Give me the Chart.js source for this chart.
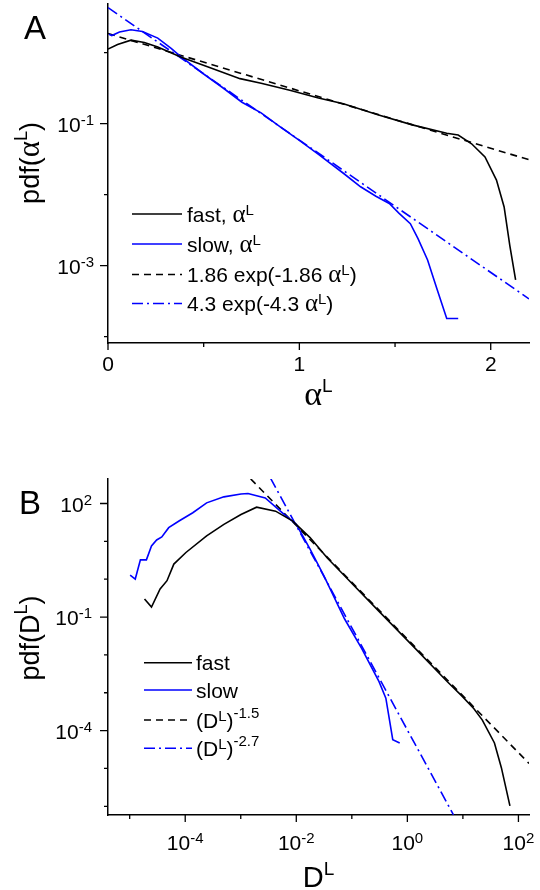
<!DOCTYPE html>
<html>
<head>
<meta charset="utf-8">
<script src="https://cdn.jsdelivr.net/npm/chart.js@4.4.1/dist/chart.umd.min.js"></script>
<style>
  html, body { margin: 0; padding: 0; background: #fff; }
  #wrap { position: relative; width: 540px; height: 890px; background: #fff; }
  canvas { position: absolute; left: 0; }
  #chartA { top: 0; }
  #chartB { top: 440px; }
</style>
</head>
<body>
<div id="wrap">
  <canvas id="chartA" width="540" height="440"></canvas>
  <canvas id="chartB" width="540" height="450"></canvas>
</div>
<script>
// ---- panel A: pdf of alpha^L (lin x, log y)
const alphaFastX = [0, 0.05, 0.12, 0.19, 0.26, 0.38, 0.52, 0.69, 0.8, 0.95, 1.1, 1.23, 1.41, 1.59, 1.77, 1.83, 1.9, 1.97, 2.03, 2.07, 2.1, 2.13];
const alphaFastY = [1.12, 1.3, 1.5, 1.39, 1.2, 0.87, 0.63, 0.43, 0.37, 0.295, 0.23, 0.19, 0.133, 0.096, 0.073, 0.069, 0.052, 0.034, 0.016, 0.0067, 0.0019, 0.00063];
const alphaSlowX = [0.005, 0.02, 0.06, 0.12, 0.18, 0.26, 0.33, 0.38, 0.5, 0.6, 0.7, 0.8, 0.9, 1.0, 1.1, 1.23, 1.32, 1.4, 1.47, 1.52, 1.58, 1.62, 1.67, 1.72, 1.77, 1.83];
const alphaSlowY = [1.82, 1.74, 1.95, 2.1, 1.98, 1.6, 1.15, 0.88, 0.5, 0.32, 0.2, 0.142, 0.09, 0.058, 0.037, 0.02, 0.0129, 0.0095, 0.0075, 0.0055, 0.0039, 0.0024, 0.0012, 0.00046, 0.00018, 0.00018];
const alphaFitFastX = [0, 2.2];
const alphaFitFastY = [1.86, 0.031];
const alphaFitSlowX = [0, 2.2];
const alphaFitSlowY = [4.3, 0.00034];

const alphaTicks = [0, 0.5, 1, 1.5, 2];
const alphaTickLabels = ['0', '', '1', '', '2'];
const pdfATickExp = [-4, -3, -2, -1, 0];
const pdfALabelExp = [-3, -1];

// ---- panel B: pdf of D^L (log x, log y)
const dFastX = [1.85e-5, 2.47e-5, 3.53e-5, 4.70e-5, 6.24e-5, 1.03e-4, 2.43e-4, 4.97e-4, 1.01e-3, 1.93e-3, 4.24e-3, 8.65e-3, 0.0177, 0.0362, 0.0738, 0.309, 1.29, 5.37, 9.55, 15.8, 22.4, 37.0, 49.3, 70.3];
const dFastY = [0.302, 0.183, 0.553, 0.914, 2.51, 5.08, 13.9, 28.1, 51.4, 80.0, 62.8, 34.4, 12.6, 3.63, 1.23, 0.141, 0.0166, 0.0019, 8.3e-4, 3.8e-4, 1.9e-4, 4.73e-5, 1.05e-5, 1.03e-6];
const dSlowX = [1.02e-5, 1.26e-5, 1.56e-5, 2.0e-5, 2.47e-5, 3.06e-5, 3.79e-5, 5.04e-5, 7.73e-5, 1.37e-4, 2.43e-4, 4.97e-4, 1.01e-3, 1.35e-3, 2.76e-3, 5.62e-3, 0.01, 0.0177, 0.0313, 0.0738, 0.151, 0.309, 0.41, 0.546, 0.728];
const dSlowY = [1.29, 1.01, 3.25, 3.25, 7.59, 10.9, 13.1, 23.0, 34.4, 56.9, 104, 150, 179, 183, 141, 56.9, 28.1, 6.21, 1.24, 0.0902, 0.0147, 0.00197, 7.18e-4, 5.77e-5, 4.73e-5];
const dFitFastX = [0.00151, 155];
const dFitFastY = [447, 1.36e-5];
const dFitSlowX = [0.00342, 6.76];
const dFitSlowY = [473, 5.97e-7];

const dTickExp = [-5, -4, -3, -2, -1, 0, 1, 2];
const dLabelExp = [-4, -2, 0, 2];
const pdfBTickExp = [-6, -5, -4, -3, -2, -1, 0, 1, 2];
const pdfBLabelExp = [-4, -1, 2];

const SANS = '"Liberation Sans", Arial, sans-serif';
const SERIF = '"Liberation Serif", "Times New Roman", serif';
const BLUE = '#0000ff';

function pts(xs, ys) {
    return xs.map((x, i) => ({ x: x, y: ys[i] }));
}

function seg(t, size, rise, fam) {
    return { t: t, size: size, rise: rise || 0, fam: fam || SANS };
}

function drawRich(ctx, segs, x, y, align) {
    let w = 0;
    segs.forEach(s => {
        ctx.font = s.size + 'px ' + s.fam;
        s.w = ctx.measureText(s.t).width;
        w += s.w;
    });
    let cx = align === 'right' ? x - w : align === 'center' ? x - w / 2 : x;
    ctx.fillStyle = '#000';
    ctx.textAlign = 'left';
    ctx.textBaseline = 'alphabetic';
    segs.forEach(s => {
        ctx.font = s.size + 'px ' + s.fam;
        ctx.fillText(s.t, cx, y - s.rise);
        cx += s.w;
    });
}

function pow10(e) {
    return [seg('10', 21), seg(String(e), 15, 7)];
}

function line(label, xs, ys, color, dash) {
    return {
        label: label,
        data: pts(xs, ys),
        borderColor: color,
        borderWidth: 1.6,
        borderDash: dash || [],
        pointRadius: 0,
        tension: 0,
        fill: false
    };
}

function axis(type, min, max) {
    return {
        type: type, min: min, max: max,
        grid: { display: false, drawTicks: false },
        ticks: { display: false },
        title: { display: false },
        border: { display: true, color: '#000', width: 1.5 }
    };
}

function strokeTicks(chart, xList, yList) {
    const ctx = chart.ctx, a = chart.chartArea;
    const sx = chart.scales.x, sy = chart.scales.y;
    ctx.save();
    ctx.strokeStyle = '#000';
    ctx.lineWidth = 1.3;
    ctx.setLineDash([]);
    ctx.beginPath();
    xList.forEach(t => {
        const p = sx.getPixelForValue(t.v);
        ctx.moveTo(p, a.bottom);
        ctx.lineTo(p, a.bottom + (t.major ? 7 : 4));
    });
    yList.forEach(t => {
        const p = sy.getPixelForValue(t.v);
        ctx.moveTo(a.left, p);
        ctx.lineTo(a.left - (t.major ? 8 : 4), p);
    });
    ctx.stroke();
    ctx.restore();
}

function drawLegend(chart, items, x0, x1, tx) {
    const ctx = chart.ctx;
    items.forEach(it => {
        const ds = chart.data.datasets[it.ds];
        ctx.save();
        ctx.strokeStyle = ds.borderColor;
        ctx.lineWidth = ds.borderWidth;
        ctx.setLineDash(ds.borderDash || []);
        ctx.beginPath();
        ctx.moveTo(x0, it.y);
        ctx.lineTo(x1, it.y);
        ctx.stroke();
        ctx.restore();
        drawRich(ctx, it.segs, tx, it.y + 7.5, 'left');
    });
}

function drawRotated(ctx, segs, x, y) {
    ctx.save();
    ctx.translate(x, y);
    ctx.rotate(-Math.PI / 2);
    drawRich(ctx, segs, 0, 0, 'center');
    ctx.restore();
}

// serif alpha followed by a raised L
const alphaSup = (size, lsize, rise) => [seg('\u03b1', size, 0, SERIF), seg('L', lsize, rise)];

const decorA = {
    id: 'decorA',
    afterDraw(chart) {
        const ctx = chart.ctx, a = chart.chartArea;
        const sx = chart.scales.x, sy = chart.scales.y;
        strokeTicks(chart,
            alphaTicks.map((v, i) => ({ v: v, major: alphaTickLabels[i] !== '' })),
            pdfATickExp.map(e => ({ v: Math.pow(10, e), major: pdfALabelExp.includes(e) })));
        alphaTicks.forEach((v, i) => {
            if (alphaTickLabels[i]) drawRich(ctx, [seg(alphaTickLabels[i], 21)], sx.getPixelForValue(v), a.bottom + 28, 'center');
        });
        pdfALabelExp.forEach(e => {
            drawRich(ctx, pow10(e), 94, sy.getPixelForValue(Math.pow(10, e)) + 8, 'right');
        });
        drawRich(ctx, [seg('A', 33)], 24, 39, 'left');
        drawRich(ctx, alphaSup(34, 19, 13), (a.left + a.right) / 2, 405, 'center');
        drawRotated(ctx, [seg('pdf(', 27)].concat(alphaSup(31, 18, 12), [seg(')', 27)]), 39, 163);
        drawLegend(chart, [
            { ds: 0, y: 214, segs: [seg('fast, ', 21)].concat(alphaSup(25, 15, 7)) },
            { ds: 1, y: 244, segs: [seg('slow, ', 21)].concat(alphaSup(25, 15, 7)) },
            { ds: 2, y: 274.5, segs: [seg('1.86 exp(-1.86 ', 21)].concat(alphaSup(25, 15, 7), [seg(')', 21)]) },
            { ds: 3, y: 303.5, segs: [seg('4.3 exp(-4.3 ', 21)].concat(alphaSup(25, 15, 7), [seg(')', 21)]) }
        ], 132, 182, 187);
    }
};

const decorB = {
    id: 'decorB',
    afterDraw(chart) {
        const ctx = chart.ctx, a = chart.chartArea;
        const sx = chart.scales.x, sy = chart.scales.y;
        strokeTicks(chart,
            dTickExp.map(e => ({ v: Math.pow(10, e), major: dLabelExp.includes(e) })),
            pdfBTickExp.map(e => ({ v: Math.pow(10, e), major: pdfBLabelExp.includes(e) })));
        dLabelExp.forEach(e => {
            drawRich(ctx, pow10(e), sx.getPixelForValue(Math.pow(10, e)), a.bottom + 35, 'center');
        });
        pdfBLabelExp.forEach(e => {
            drawRich(ctx, pow10(e), 92, sy.getPixelForValue(Math.pow(10, e)) + 8, 'right');
        });
        drawRich(ctx, [seg('B', 33)], 19, 74, 'left');
        drawRich(ctx, [seg('D', 29), seg('L', 19, 12)], (a.left + a.right) / 2, 447, 'center');
        drawRotated(ctx, [seg('pdf(D', 27), seg('L', 18, 12), seg(')', 27)], 39, 198);
        drawLegend(chart, [
            { ds: 0, y: 222.7, segs: [seg('fast', 21)] },
            { ds: 1, y: 250, segs: [seg('slow', 21)] },
            { ds: 2, y: 280, segs: [seg('(D', 21), seg('L', 15, 7), seg(')', 21), seg('-1.5', 15, 10)] },
            { ds: 3, y: 308.3, segs: [seg('(D', 21), seg('L', 15, 7), seg(')', 21), seg('-2.7', 15, 10)] }
        ], 144, 192, 196);
    }
};

const baseOptions = (padding, scales) => ({
    responsive: false,
    maintainAspectRatio: false,
    animation: false,
    layout: { padding: padding },
    plugins: { legend: { display: false }, tooltip: { enabled: false } },
    scales: scales
});

new Chart(document.getElementById('chartA'), {
    type: 'line',
    data: {
        datasets: [
            line('fast', alphaFastX, alphaFastY, '#000'),
            line('slow', alphaSlowX, alphaSlowY, BLUE),
            line('1.86 exp(-1.86 alpha)', alphaFitFastX, alphaFitFastY, '#000', [7, 5]),
            line('4.3 exp(-4.3 alpha)', alphaFitSlowX, alphaFitSlowY, BLUE, [11, 4, 2, 4])
        ]
    },
    options: baseOptions({ left: 108, right: 11, top: 4, bottom: 97 }, {
        x: axis('linear', 0, 2.2),
        y: axis('logarithmic', 8.13e-5, 4.84)
    }),
    plugins: [decorA]
});

new Chart(document.getElementById('chartB'), {
    type: 'line',
    data: {
        datasets: [
            line('fast', dFastX, dFastY, '#000'),
            line('slow', dSlowX, dSlowY, BLUE),
            line('(D)^-1.5', dFitFastX, dFitFastY, '#000', [7, 5]),
            line('(D)^-2.7', dFitSlowX, dFitSlowY, BLUE, [11, 4, 2, 4])
        ]
    },
    options: baseOptions({ left: 108, right: 11, top: 39, bottom: 75 }, {
        x: axis('logarithmic', 4.07e-6, 155),
        y: axis('logarithmic', 5.9e-7, 444)
    }),
    plugins: [decorB]
});
</script>
</body>
</html>
